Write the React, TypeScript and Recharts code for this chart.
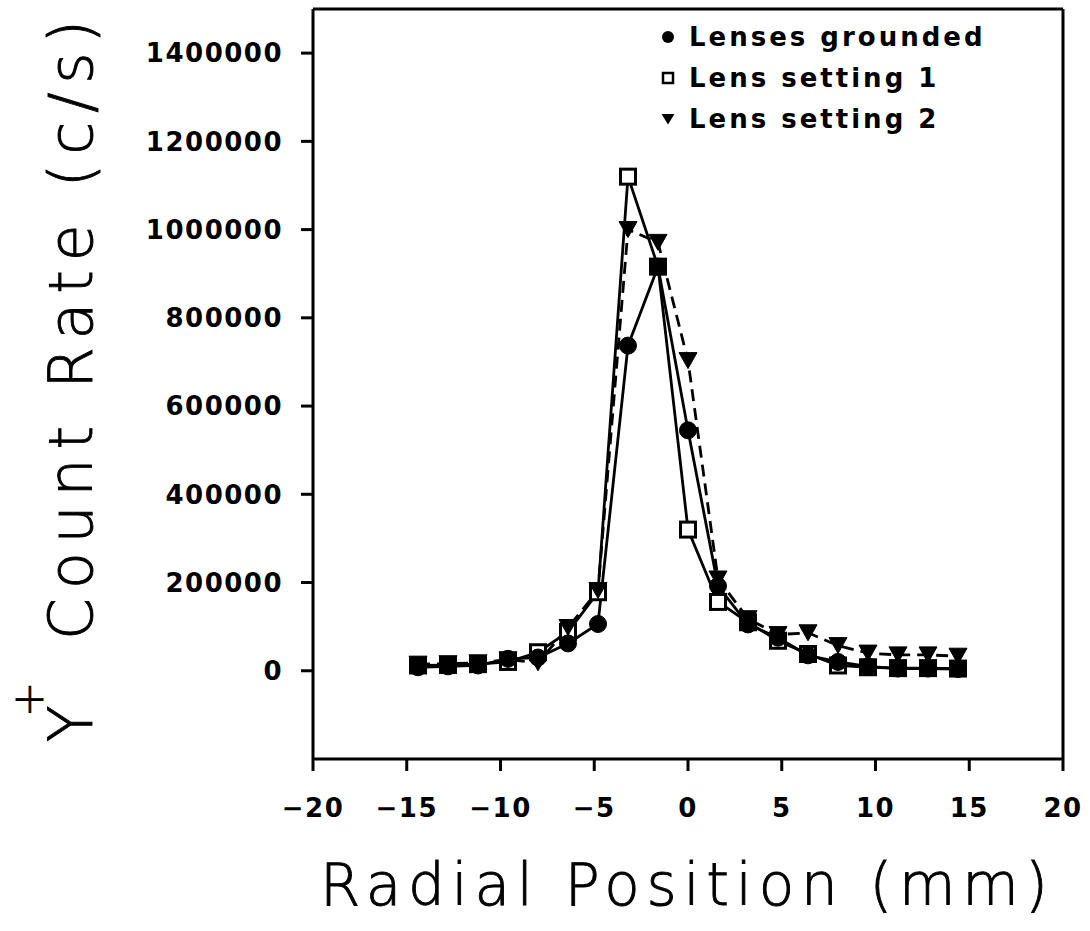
import React from 'react';
import { LineChart, Line, XAxis, YAxis, ReferenceLine } from 'recharts';

// radial positions (mm)
const positions = [-14.4, -12.8, -11.2, -9.6, -8.0, -6.4, -4.8, -3.2, -1.6, 0, 1.6, 3.2, 4.8, 6.4, 8.0, 9.6, 11.2, 12.8, 14.4];

// Y+ count rate (c/s)
const grounded = [8000, 10000, 12000, 27000, 30000, 62000, 106000, 737000, 916000, 545000, 192000, 105000, 75000, 35000, 20000, 10000, 5000, 5000, 4000];
const setting1 = [12000, 13000, 15000, 20000, 42000, 88000, 178000, 1120000, 916000, 320000, 156000, 110000, 68000, 38000, 12000, 8000, 6000, 6000, 5000];
const setting2 = [15000, 16000, 18000, 25000, 18000, 98000, 182000, 1000000, 971000, 703000, 208000, 118000, 82000, 86000, 57000, 40000, 36000, 36000, 33000];

const xTicks = [-20, -15, -10, -5, 0, 5, 10, 15, 20];
const yTicks = [0, 200000, 400000, 600000, 800000, 1000000, 1200000, 1400000];

const seriesNames = ['Lenses grounded', 'Lens setting 1', 'Lens setting 2'];

const data = positions.map((x, i) => ({
  x,
  grounded: grounded[i],
  setting1: setting1[i],
  setting2: setting2[i],
}));

const tickFont = { fontFamily: 'DejaVu Sans', fontWeight: 700, fontSize: 26, fill: '#000', letterSpacing: 1.5 };
const titleFont = "'DejaVu Sans ExtraLight', 'DejaVu Sans'";

const fmtTick = (v: number) => String(v).replace('-', '\u2212');

const SquareDot = (p: any) => (
  <rect key={`s${p.index}`} x={p.cx - 7.5} y={p.cy - 7.5} width={15} height={15} fill="#fff" stroke="#000" strokeWidth={3} />
);

const TriDot = (p: any) => (
  <path key={`t${p.index}`} d={`M${p.cx - 9},${p.cy - 8} L${p.cx + 9},${p.cy - 8} L${p.cx},${p.cy + 8} Z`} fill="#000" stroke="#000" strokeWidth={1} />
);

const marker = (i: number) => {
  if (i === 0) return <circle cx={8} cy={8} r={6} fill="#000" />;
  if (i === 1) return <rect x={3} y={3} width={10} height={10} fill="#fff" stroke="#000" strokeWidth={2.5} />;
  return <path d="M1.5,3 L14.5,3 L8,13.5 Z" fill="#000" />;
};

const LegendBox = () => (
  <div style={{ position: 'absolute', top: 16, left: 660, width: 420 }}>
    {seriesNames.map((name, i) => (
      <div key={name} style={{ display: 'flex', alignItems: 'center', height: 41 }}>
        <svg width={16} height={16} style={{ marginRight: 13 }}>{marker(i)}</svg>
        <span style={{ fontFamily: 'DejaVu Sans', fontWeight: 700, fontSize: 26, letterSpacing: 3, color: '#000' }}>{name}</span>
      </div>
    ))}
  </div>
);

const YTitle = () => (
  <text transform="rotate(-90)" fontFamily={titleFont} fontWeight={200} fill="#000" stroke="#000" strokeWidth={0.9}>
    <tspan x={-742} y={92} fontSize={60}>Y</tspan>
    <tspan x={-717} y={43} fontSize={42}>+</tspan>
    <tspan x={-640} y={92} fontSize={60} textLength={620} lengthAdjust="spacing">Count Rate (c/s)</tspan>
  </text>
);

const XTitle = () => (
  <text x={320} y={905} fontFamily={titleFont} fontWeight={200} fontSize={58} fill="#000" stroke="#000" strokeWidth={0.9} textLength={728} lengthAdjust="spacing">
    Radial Position (mm)
  </text>
);

export default function App() {
  return (
    <div style={{ position: 'absolute', left: 0, top: 0, width: 1090, height: 931, background: '#fff' }}>
      <LineChart width={1090} height={931} data={data} margin={{ top: 9, right: 27, left: 0, bottom: 0 }}>
        <XAxis
          dataKey="x"
          type="number"
          domain={[-20, 20]}
          ticks={xTicks}
          tickFormatter={fmtTick}
          height={172}
          tickSize={12}
          tickMargin={28}
          tick={tickFont}
          axisLine={{ stroke: '#000', strokeWidth: 3 }}
          tickLine={{ stroke: '#000', strokeWidth: 3 }}
          label={{ content: () => <XTitle /> }}
        />
        <YAxis
          type="number"
          domain={[-200000, 1500000]}
          ticks={yTicks}
          width={313}
          tickSize={12}
          tickMargin={18}
          tick={tickFont}
          interval={0}
          axisLine={{ stroke: '#000', strokeWidth: 3 }}
          tickLine={{ stroke: '#000', strokeWidth: 3 }}
          label={{ content: () => <YTitle /> }}
        />
        <ReferenceLine y={1500000} stroke="#000" strokeWidth={3} />
        <ReferenceLine x={20} stroke="#000" strokeWidth={3} />
        <Line dataKey="setting1" stroke="#000" strokeWidth={2.8} dot={SquareDot} isAnimationActive={false} />
        <Line dataKey="grounded" stroke="#000" strokeWidth={2.8} dot={{ r: 8.5, fill: '#000', stroke: '#000', strokeWidth: 1 }} isAnimationActive={false} />
        <Line dataKey="setting2" stroke="#000" strokeWidth={2.8} strokeDasharray="12 7" dot={TriDot} isAnimationActive={false} />
      </LineChart>
      <LegendBox />
    </div>
  );
}
